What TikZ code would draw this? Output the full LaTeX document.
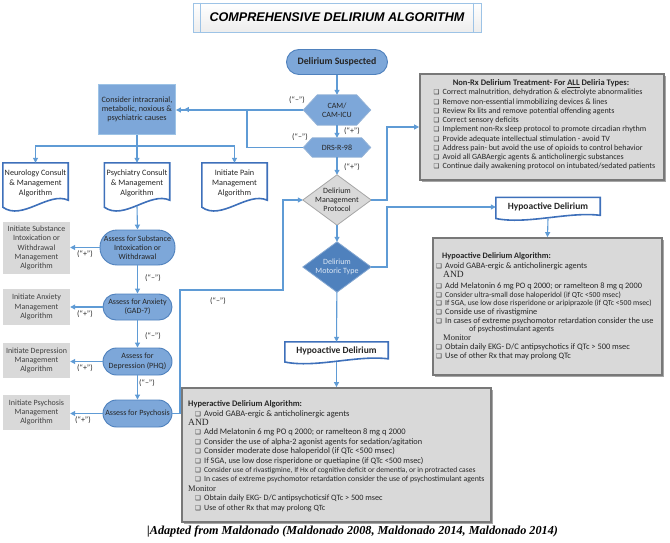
\documentclass[tikz,border=0pt]{standalone}
\usepackage{fontspec}
\setmainfont{Carlito}
\newfontfamily\arialf{Liberation Sans}
\newfontfamily\timesf{Liberation Serif}
\newfontfamily\symf{DejaVu Sans}
\usetikzlibrary{calc,shadows,arrows.meta}
\pgfdeclarelayer{bg}
\pgfsetlayers{bg,main}
\definecolor{lineblue}{RGB}{95,155,213}
\definecolor{pillblue}{RGB}{125,167,217}
\definecolor{pillborder}{RGB}{79,129,189}
\definecolor{docborder}{RGB}{62,112,186}
\definecolor{darkblue}{RGB}{79,129,189}
\definecolor{boxgray}{RGB}{217,217,217}
\definecolor{boxborder}{RGB}{120,120,120}
\definecolor{titleborder}{RGB}{157,195,230}
\definecolor{textdark}{RGB}{38,38,38}
\definecolor{mttext}{RGB}{222,232,244}
\newcommand\bul{\makebox[9pt][l]{{\symf\fontsize{6.5}{6.5}\selectfont ❑}}}
\newcommand\hexbg[3]{\path[#3] (#1.west) -- ([xshift=#2pt]#1.north west) -- ([xshift=-#2pt]#1.north east) -- (#1.east) -- ([xshift=-#2pt]#1.south east) -- ([xshift=#2pt]#1.south west) -- cycle;}
\newcommand\diabg[2]{\path[#2] (#1.north) -- (#1.east) -- (#1.south) -- (#1.west) -- cycle;}
\newcommand\docbg[2]{\path[docshape] ($(#1.south west)+(0pt,-4*#2pt)$) -- (#1.north west) -- (#1.north east) -- ($(#1.south east)+(0pt,3*#2pt)$) .. controls ($(#1.south west)!0.7!(#1.south east)+(0pt,12*#2pt)$) and ($(#1.south west)!0.3!(#1.south east)+(0pt,-18*#2pt)$) .. ($(#1.south west)+(0pt,-4*#2pt)$) -- cycle;}
\tikzset{
  conn/.style={draw=lineblue, line width=1.1pt},
  arr/.style={conn, -{Triangle[length=5pt,width=5pt]}},
  pill/.style={draw=pillborder, fill=pillblue, line width=0.9pt, rounded corners=#1, inner sep=0pt, align=center, text=textdark, font=\fontsize{8}{9.5}\selectfont},
  pill/.default=13pt,
  shp/.style={inner sep=0pt, align=center, text=textdark, font=\fontsize{8}{9}\selectfont},
  docn/.style={inner sep=0pt, align=center, minimum width=65pt, minimum height=40pt, text=textdark, font=\fontsize{8.2}{10}\selectfont},
  docshape/.style={draw=docborder, line width=1.6pt, fill=white},
  hexshape/.style={fill=pillblue, draw=pillborder!60, line width=0.8pt},
  grayb/.style={fill=boxgray, inner sep=0pt, align=center, text=black!75, font=\fontsize{8}{9.3}\selectfont, minimum width=67pt},
  lbl/.style={font=\fontsize{8}{8}\selectfont, text=textdark, inner sep=0pt},
  bigbox/.style={fill=boxgray, draw=boxborder, line width=1.8pt, drop shadow={shadow xshift=2pt, shadow yshift=-2pt, opacity=0.35, fill=black}},
  listtxt/.style={inner sep=0pt, align=left, anchor=north west, text=textdark},
  titlebox/.style={draw=titleborder, line width=0.8pt, top color=white, bottom color=gray!14, inner sep=0pt, minimum width=288pt, minimum height=29pt, font=\arialf\bfseries\itshape\fontsize{12.6}{14}\selectfont}
}
\begin{document}
\begin{tikzpicture}[x=1pt,y=-1pt]
\useasboundingbox (0,0) rectangle (670,543);

% title
\node[titlebox] (title) at (337,17.5) {COMPREHENSIVE DELIRIUM ALGORITHM};
\draw[titleborder, line width=0.8pt] ([xshift=8pt]title.north west) -- ([xshift=8pt]title.south west) ([xshift=-8pt]title.north east) -- ([xshift=-8pt]title.south east);

% central chain
\node[pill=12.5pt, minimum width=101pt, minimum height=25pt, font=\bfseries\fontsize{9.8}{11}\selectfont] (ds) at (337,62) {Delirium Suspected};
\node[shp, minimum width=67pt, minimum height=30pt] (cam) at (337,110) {CAM/\\CAM-ICU};
\node[shp, minimum width=67pt, minimum height=19pt] (drs) at (337,147.5) {DRS-R-98};
\node[shp, minimum width=68pt, minimum height=50pt] (mp) at (337,200) {Delirium\\Management\\Protocol};
\node[shp, minimum width=68pt, minimum height=50pt, text=mttext] (mt) at (337,267) {Delirium\\Motoric Type};
\node[docn, minimum width=103pt, minimum height=18pt, font=\bfseries\fontsize{9.5}{10}\selectfont] (hypoB) at (336.5,351) {Hypoactive Delirium};
\node[docn, minimum width=104pt, minimum height=19pt, font=\bfseries\fontsize{9.5}{10}\selectfont] (hypoA) at (548,207) {Hypoactive Delirium};

% left column
\node[pill=0pt, draw=titleborder, minimum width=77pt, minimum height=50pt, font=\fontsize{8.2}{9}\selectfont] (consider) at (137,109.5) {Consider intracranial,\\metabolic, noxious \&\\psychiatric causes};
\node[docn] (neuro) at (35.5,183) {Neurology Consult\\\& Management\\Algorithm};
\node[docn] (psych) at (137,183) {Psychiatry Consult\\\& Management\\Algorithm};
\node[docn] (pain) at (234.5,183) {Initiate Pain\\Management\\Algorithm};

\node[pill=17pt, minimum width=75pt, minimum height=35pt, font=\fontsize{8}{9}\selectfont] (subst) at (137.5,247.5) {Assess for Substance\\Intoxication or\\Withdrawal};
\node[pill=13pt, minimum width=69pt, minimum height=26pt] (anx) at (137.5,307) {Assess for Anxiety\\(GAD-7)};
\node[pill=13.5pt, minimum width=69pt, minimum height=27pt] (dep) at (137.5,361.5) {Assess for\\Depression (PHQ)};
\node[pill=13.5pt, minimum width=69pt, minimum height=27pt] (psy) at (137.5,413.5) {Assess for Psychosis};

\node[grayb, minimum height=52pt] (subgray) at (36.5,248) {Initiate Substance\\Intoxication or\\Withdrawal\\Management\\Algorithm};
\node[grayb, minimum height=36pt] (anxgray) at (36.5,307) {Initiate Anxiety\\Management\\Algorithm};
\node[grayb, minimum height=35pt] (depgray) at (36.5,360.5) {Initiate Depression\\Management\\Algorithm};
\node[grayb, minimum height=35pt] (psygray) at (36.5,412.5) {Initiate Psychosis\\Management\\Algorithm};

% big boxes
\node[bigbox, minimum width=244pt, minimum height=106pt] (nonrx) at (542,127) {};
\node[bigbox, minimum width=229pt, minimum height=137pt] (hypobox) at (547.5,306.5) {};
\node[bigbox, minimum width=309pt, minimum height=134pt] (hyperbox) at (336.5,455) {};

\node[anchor=base, inner sep=0pt, text=textdark, font=\bfseries\fontsize{8.5}{9}\selectfont] (nonrxtitle) at (541,86) {Non-Rx Delirium Treatment- For \underline{ALL} Deliria Types:};
\node[listtxt, font=\fontsize{8}{9.25}\selectfont] (nonrxlist) at (433.5,89) {%
\bul Correct malnutrition, dehydration \& electrolyte abnormalities\\
\bul Remove non-essential immobilizing devices \& lines\\
\bul Review Rx lits and remove potential offending agents\\
\bul Correct sensory deficits\\
\bul Implement non-Rx sleep protocol to promote circadian rhythm\\
\bul Provide adequate intellectual stimulation - avoid TV\\
\bul Address pain- but avoid the use of opioids to control behavior\\
\bul Avoid all GABAergic agents \& anticholinergic substances\\
\bul Continue daily awakening protocol on intubated/sedated patients};

\node[listtxt, font=\fontsize{8.3}{8.7}\selectfont] (hypolist) at (436,252.5) {%
{\hspace*{6pt}\bfseries Hypoactive Delirium Algorithm:}\\[1.4pt]
\bul Avoid GABA-ergic \& anticholinergic agents\\
{\hspace*{7pt}\timesf\fontsize{9.5}{9}\selectfont AND}\\[2.4pt]
\bul Add Melatonin 6 mg PO q 2000; or ramelteon 8 mg q 2000\\
{\bul\fontsize{7.7}{8}\selectfont Consider ultra-small dose haloperidol (if QTc <500 msec)}\\
{\bul\fontsize{7.7}{8}\selectfont If SGA, use low dose risperidone or aripiprazole (if QTc <500 msec)}\\
\bul Conside use of rivastigmine\\
{\bul\fontsize{8.3}{8}\selectfont In cases of extreme psychomotor retardation consider the use}\\
{\hspace*{33pt}\fontsize{8}{8}\selectfont of psychostimulant agents}\\
{\hspace*{7pt}\timesf\fontsize{8.5}{9}\selectfont Monitor}\\
{\bul\fontsize{8.4}{8}\selectfont Obtain daily EKG- D/C antipsychotics if QTc > 500 msec}\\
\bul Use of other Rx that may prolong QTc};

\node[listtxt, font=\fontsize{8.5}{9.4}\selectfont] (hyperlist) at (188,400.5) {%
{\bfseries Hyperactive Delirium Algorithm:}\\
\hspace*{7pt}\bul Avoid GABA-ergic \& anticholinergic agents\\
{\timesf\fontsize{9.5}{9}\selectfont AND}\\
\hspace*{7pt}\bul Add Melatonin 6 mg PO q 2000; or ramelteon 8 mg q 2000\\
{\hspace*{7pt}\bul\fontsize{8.3}{8}\selectfont Consider the use of alpha-2 agonist agents for sedation/agitation}\\
\hspace*{7pt}\bul Consider moderate dose haloperidol (if QTc <500 msec)\\
{\hspace*{7pt}\bul\fontsize{8.3}{8}\selectfont If SGA, use low dose risperidone or quetiapine (if QTc <500 msec)}\\
{\hspace*{7pt}\bul\fontsize{7.55}{8}\selectfont Consider use of rivastigmine, If Hx of cognitive deficit or dementia, or in protracted cases}\\
{\hspace*{7pt}\bul\fontsize{7.8}{8}\selectfont In cases of extreme psychomotor retardation consider the use of psychostimulant agents}\\
{\timesf\fontsize{8.5}{9}\selectfont Monitor}\\
{\hspace*{7pt}\bul\fontsize{8.2}{8}\selectfont Obtain daily EKG- D/C antipsychoticsif QTc > 500 msec}\\
{\hspace*{7pt}\bul\fontsize{8}{8}\selectfont Use of other Rx that may prolong QTc}};

% caption
\node[anchor=base west, inner sep=0pt, font=\timesf\bfseries\itshape\fontsize{12.2}{14}\selectfont] (caption) at (147,534) {|Adapted from Maldonado (Maldonado 2008, Maldonado 2014, Maldonado 2014)};

% background shapes
\begin{pgfonlayer}{bg}
\hexbg{cam}{14}{hexshape}
\hexbg{drs}{9}{hexshape}
\diabg{mp}{fill=boxgray, draw=gray!70, line width=0.8pt}
\diabg{mt}{fill=darkblue, draw=pillborder!70!white, line width=0.8pt}
\docbg{neuro}{1}
\docbg{psych}{1}
\docbg{pain}{1}
\docbg{hypoA}{0.45}
\docbg{hypoB}{0.45}
\end{pgfonlayer}

% coordinates for bends
\coordinate (drsk) at (247,147.5);
\coordinate (bus) at (137,146);
\coordinate (k1) at (180,290);
\coordinate (k2) at (283,290);
\coordinate (k3) at (387,200);
\coordinate (k4) at (387,267);

% connectors
\draw[arr] (ds) -- (cam);
\draw[arr] (cam) -- (drs);
\draw[arr] (drs) -- (mp);
\draw[arr] (cam.west) -- (cam.west -| consider.east);
\draw[arr] (drs.west) -- (drsk) |- ([xshift=8pt]consider.east);
\draw[conn] (consider.south) -- (bus);
\draw[arr] (bus) -| (neuro.north);
\draw[arr] (bus) -- (psych.north);
\draw[arr] (bus) -| (pain.north);
\draw[arr] ([yshift=-3pt]psych.south) -- (subst.north);
\draw[arr] (subst.west) -- (subst.west -| subgray.east);
\draw[arr] (subst) -- (anx);
\draw[arr] (anx.west) -- (anx.west -| anxgray.east);
\draw[arr] (anx) -- (dep);
\draw[arr] (dep.west) -- (dep.west -| depgray.east);
\draw[arr] (dep) -- (psy);
\draw[arr] (psy.west) -- (psy.west -| psygray.east);
\draw[arr] (psy.east) -| (k1) -- (k2) |- (mp.west);
\draw[arr] (mp) -- (mt);
\draw[arr] (mp.east) -- (k3) |- (nonrx.west);
\draw[arr] (mt.east) -- (k4) |- (hypoA.west);
\draw[arr] ([yshift=-2pt]hypoA.south) -- (hypobox.north);
\draw[arr] (mt) -- (hypoB);
\draw[arr] ([yshift=-2pt]hypoB.south) -- (hyperbox.north);

% labels
\node[lbl] (l1) at (297,100) {(“–”)};
\node[lbl] (l2) at (352,131) {(“+”)};
\node[lbl] (l3) at (300,137) {(“–”)};
\node[lbl] (l4) at (352,167) {(“+”)};
\node[lbl] (l5) at (85,254) {(“+”)};
\node[lbl] (l6) at (153,278) {(“–”)};
\node[lbl] (l7) at (85,314) {(“+”)};
\node[lbl] (l8) at (153,336) {(“–”)};
\node[lbl] (l9) at (85,368) {(“+”)};
\node[lbl] (l10) at (147,383) {(“–”)};
\node[lbl] (l11) at (83,420) {(“+”)};
\node[lbl] (l12) at (218,301) {(“–”)};
\end{tikzpicture}
\end{document}
